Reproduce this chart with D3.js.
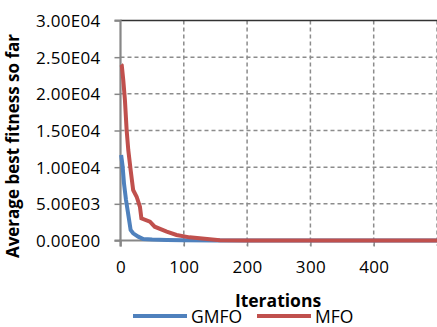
<!DOCTYPE html>
<html>
<head>
<meta charset="utf-8">
<script src="https://cdn.jsdelivr.net/npm/d3@7"></script>
<style>
  body { margin: 0; background: #fff; }
  svg text { font-family: "Open Sans", "Liberation Sans", sans-serif; fill: #000; }
</style>
</head>
<body>
<div id="chart"></div>
<script>
// convergence data (iteration, value)
const gmfoIter = [1, 2, 3.4, 5.5, 8.7, 12, 16, 20, 28, 36, 50, 73, 100, 150, 500];
const gmfoVals = [11650, 11000, 10050, 7790, 5520, 3700, 1430, 980, 520, 200, 120, 70, 30, 0, 0];
const mfoIter = [1, 2, 4.4, 7, 9.7, 12.3, 16, 20, 25.5, 30.7, 33, 46.5, 54, 73, 88.5, 109, 141, 157, 200, 500];
const mfoVals = [24000, 23900, 21860, 19140, 15050, 12330, 9600, 6880, 5970, 4600, 3020, 2560, 1880, 1200, 750, 430, 160, 50, 0, 0];
const yTicks = [0, 5000, 10000, 15000, 20000, 25000, 30000];
const xTicks = [0, 100, 200, 300, 400];
const seriesNames = ['GMFO', 'MFO'];
const seriesColors = ['#4F81BD', '#C0504D'];

const W = 437, H = 327;
const margin = { top: 20.5, right: 0, bottom: 86.5, left: 120.5 };
const width = 437 - margin.left, height = H - margin.top - margin.bottom;

const svg = d3.select('#chart').append('svg')
  .attr('width', W).attr('height', H);
const g = svg.append('g').attr('transform', `translate(${margin.left},${margin.top})`);

const x = d3.scaleLinear().domain([0, 500]).range([0, width]);
const y = d3.scaleLinear().domain([0, 30000]).range([height, 0]);

const fmt = v => {
  if (v === 0) return '0.00E00';
  const e = Math.floor(Math.log10(v));
  return (v / Math.pow(10, e)).toFixed(2) + 'E' + String(e).padStart(2, '0');
};

// grid lines
g.selectAll('.hgrid').data(yTicks.filter(d => d > 0 && d < 30000)).enter().append('line')
  .attr('x1', 0).attr('x2', width)
  .attr('y1', d => y(d)).attr('y2', d => y(d))
  .attr('stroke', '#8c8c8c').attr('stroke-width', 1.5).attr('stroke-dasharray', '4,3');
g.selectAll('.vgrid').data([100, 200, 300, 400, 500]).enter().append('line')
  .attr('x1', d => x(d)).attr('x2', d => x(d))
  .attr('y1', 0).attr('y2', height + 5)
  .attr('stroke', '#8c8c8c').attr('stroke-width', 1.5).attr('stroke-dasharray', '4,3');
// top line
g.append('line').attr('x1', 0).attr('x2', width).attr('y1', 0).attr('y2', 0)
  .attr('stroke', '#333').attr('stroke-width', 1.5);

// axes
const yAxis = g.append('g').call(d3.axisLeft(y).tickValues(yTicks).tickFormat(fmt).tickSize(6).tickPadding(14));
const xAxis = g.append('g').attr('transform', `translate(0,${height})`)
  .call(d3.axisBottom(x).tickValues(xTicks).tickSize(6).tickPadding(14));
[yAxis, xAxis].forEach(a => {
  a.select('.domain').attr('stroke', '#878787').attr('stroke-width', 2.2);
  a.selectAll('.tick line').attr('stroke', '#878787').attr('stroke-width', 1.5);
  a.selectAll('text').style('font-size', '17px').attr('letter-spacing', '0.3px');
});
yAxis.select('.domain').attr('d', `M-6,${height}H0V0H-6`);
xAxis.select('.domain').attr('d', `M0,6V0H${width}`);
yAxis.selectAll('text').attr('dy', '0.35em');

// series lines
const line = d3.line().x(d => x(d[0])).y(d => y(d[1])).curve(d3.curveLinear);
const series = [
  d3.zip(mfoIter, mfoVals),
  d3.zip(gmfoIter, gmfoVals)
];
g.append('path').datum(series[1]).attr('d', line)
  .attr('fill', 'none').attr('stroke', seriesColors[0]).attr('stroke-width', 4);
g.append('path').datum(series[0]).attr('d', line)
  .attr('fill', 'none').attr('stroke', seriesColors[1]).attr('stroke-width', 4);

// axis titles
svg.append('text').attr('transform', 'translate(19,146) rotate(-90)')
  .attr('text-anchor', 'middle').style('font-size', '17px').style('font-weight', 'bold')
  .text('Average best fitness so far');
svg.append('text').attr('x', 278).attr('y', 307)
  .attr('text-anchor', 'middle').style('font-size', '17.5px').style('font-weight', 'bold')
  .text('Iterations');

// legend
const legX = [133, 257];
seriesNames.forEach((name, i) => {
  svg.append('line').attr('x1', legX[i]).attr('x2', legX[i] + 54)
    .attr('y1', 316).attr('y2', 316)
    .attr('stroke', seriesColors[i]).attr('stroke-width', 4);
  svg.append('text').attr('x', legX[i] + 58).attr('y', 317).attr('dy', '0.35em')
    .style('font-size', '17.5px').text(name);
});
</script>
</body>
</html>
